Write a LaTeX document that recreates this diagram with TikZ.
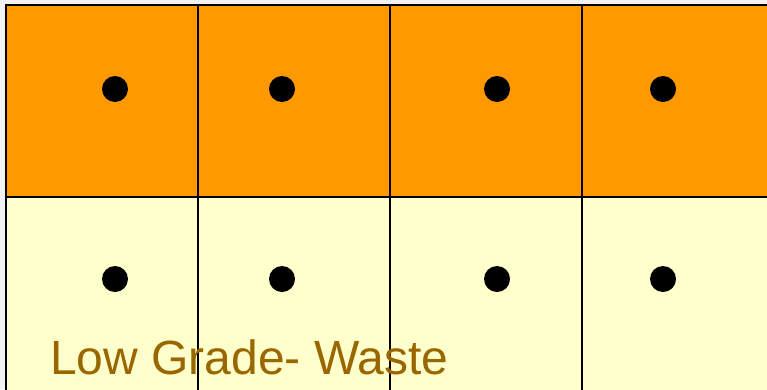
\documentclass[tikz,border=0pt]{standalone}
\usepackage{fontspec}
\setmainfont{Liberation Sans}
\definecolor{hiorange}{HTML}{FF9900}
\definecolor{lowyellow}{HTML}{FFFFCC}
\definecolor{labelbrown}{HTML}{996600}
\definecolor{bggrey}{HTML}{F2F2F2}
\begin{document}
\begin{tikzpicture}[x=1pt,y=-1pt,
  cellbox/.style={draw=black,line width=1.6pt,minimum width=192pt,minimum height=192pt,inner sep=0pt,outer sep=0pt,anchor=north west},
  hicell/.style={cellbox,fill=hiorange},
  locell/.style={cellbox,fill=lowyellow,minimum height=200pt},
  dotmark/.style={circle,fill=black,minimum size=26pt,inner sep=0pt}]
\useasboundingbox (0,0) rectangle (767,389);
\clip (0,0) rectangle (767,389);
\fill[bggrey] (0,0) rectangle (767,389);
\node[hicell] (h1) at (6,5) {};
\node[hicell] (h2) at (198,5) {};
\node[hicell] (h3) at (390,5) {};
\node[hicell] (h4) at (582,5) {};
\node[locell] (l1) at (6,197) {};
\node[locell] (l2) at (198,197) {};
\node[locell] (l3) at (390,197) {};
\node[locell] (l4) at (582,197) {};
\node[dotmark] (d1) at (115,89) {};
\node[dotmark] (d2) at (282,89) {};
\node[dotmark] (d3) at (497,89) {};
\node[dotmark] (d4) at (663,89) {};
\node[dotmark] (e1) at (115,279) {};
\node[dotmark] (e2) at (282,279) {};
\node[dotmark] (e3) at (497,279) {};
\node[dotmark] (e4) at (663,279) {};
\node[anchor=base west,inner sep=0pt,text=labelbrown,font=\fontsize{48}{48}\selectfont] (lbl) at (50,374) {Low Grade- Waste};
\end{tikzpicture}
\end{document}
